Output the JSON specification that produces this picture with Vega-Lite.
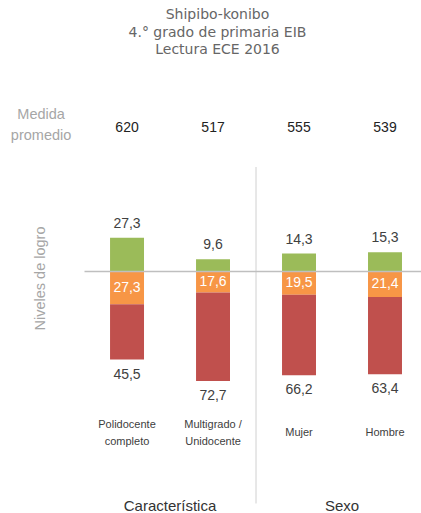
{
  "$schema": "https://vega.github.io/schema/vega-lite/v6.json",
  "autosize": "none",
  "width": 337,
  "height": 252,
  "padding": {"left": 84, "top": 148, "right": 0, "bottom": 113},
  "title": {
    "text": ["Shipibo-konibo", "4.° grado de primaria EIB", "Lectura ECE 2016"],
    "font": "DejaVu Sans",
    "fontSize": 14,
    "fontWeight": "normal",
    "color": "#666666",
    "lineHeight": 17.5,
    "anchor": "middle",
    "frame": "group",
    "dx": -35,
    "offset": 50
  },
  "config": {
    "view": {"stroke": null},
    "font": "Liberation Sans",
    "locale": {"number": {"decimal": ",", "thousands": ".", "grouping": [3], "currency": ["S/ ", ""]}}
  },
  "datasets": {
    "niveles": [
      {"cat": "Polidocente completo", "nivel": "Satisfactorio", "pct": 27.3},
      {"cat": "Polidocente completo", "nivel": "En proceso", "pct": 27.3},
      {"cat": "Polidocente completo", "nivel": "En inicio", "pct": 45.5},
      {"cat": "Multigrado / Unidocente", "nivel": "Satisfactorio", "pct": 9.6},
      {"cat": "Multigrado / Unidocente", "nivel": "En proceso", "pct": 17.6},
      {"cat": "Multigrado / Unidocente", "nivel": "En inicio", "pct": 72.7},
      {"cat": "Mujer", "nivel": "Satisfactorio", "pct": 14.3},
      {"cat": "Mujer", "nivel": "En proceso", "pct": 19.5},
      {"cat": "Mujer", "nivel": "En inicio", "pct": 66.2},
      {"cat": "Hombre", "nivel": "Satisfactorio", "pct": 15.3},
      {"cat": "Hombre", "nivel": "En proceso", "pct": 21.4},
      {"cat": "Hombre", "nivel": "En inicio", "pct": 63.4}
    ],
    "medidas": [
      {"cat": "Polidocente completo", "medida": 620},
      {"cat": "Multigrado / Unidocente", "medida": 517},
      {"cat": "Mujer", "medida": 555},
      {"cat": "Hombre", "medida": 539}
    ],
    "grupos": [
      {"grupo": "Característica", "cat": "Multigrado / Unidocente"},
      {"grupo": "Sexo", "cat": "Hombre"}
    ]
  },
  "encoding": {
    "x": {
      "field": "cat",
      "type": "nominal",
      "scale": {
        "domain": ["Polidocente completo", "Multigrado / Unidocente", "Mujer", "Hombre"],
        "paddingInner": 0.605,
        "paddingOuter": 0.262,
        "align": 0.578
      },
      "axis": {
        "title": null,
        "domain": false,
        "ticks": false,
        "tickSize": 0,
        "labelAngle": 0,
        "labelBaseline": "middle",
        "labelPadding": {"condition": {"test": "datum.value == 'Mujer' || datum.value == 'Hombre'", "value": 32}, "value": 24},
        "labelFontSize": 11,
        "labelColor": "#404040",
        "labelLineHeight": 17,
        "labelFont": "Liberation Sans",
        "labelExpr": "datum.label == 'Multigrado / Unidocente' ? ['Multigrado /', 'Unidocente'] : split(datum.label, ' ')"
      }
    }
  },
  "layer": [
    {
      "data": {"name": "niveles"},
      "transform": [
        {"calculate": "datum.nivel == 'Satisfactorio' ? datum.pct : -datum.pct", "as": "valor"},
        {"calculate": "indexof(['Satisfactorio', 'En proceso', 'En inicio'], datum.nivel)", "as": "orden"},
        {"stack": "valor", "groupby": ["cat"], "sort": [{"field": "orden", "order": "ascending"}], "as": ["v0", "v1"], "offset": "zero"},
        {"calculate": "(datum.v0 + datum.v1) / 2", "as": "mid"}
      ],
      "layer": [
        {
          "mark": {"type": "bar"},
          "encoding": {
            "y": {
              "field": "v0",
              "type": "quantitative",
              "scale": {"domain": [-106, 101], "nice": false, "zero": false},
              "axis": {
                "title": "Niveles de logro",
                "values": [0],
                "labels": false,
                "ticks": false,
                "tickSize": 0,
                "domain": false,
                "grid": true,
                "gridColor": "#bfbfbf",
                "gridWidth": 1.5,
                "zindex": 1,
                "titleColor": "#a6a6a6",
                "titleFontSize": 14.5,
                "titleFontWeight": "normal",
                "titleFont": "Liberation Sans",
                "titlePadding": 37,
                "titleY": 130
              }
            },
            "y2": {"field": "v1"},
            "color": {
              "field": "nivel",
              "type": "nominal",
              "scale": {"domain": ["Satisfactorio", "En proceso", "En inicio"], "range": ["#9bbb59", "#f79646", "#c0504d"]},
              "legend": null
            }
          }
        },
        {
          "transform": [{"filter": "datum.nivel == 'Satisfactorio'"}],
          "mark": {"type": "text", "baseline": "bottom", "dy": -7, "fontSize": 14, "font": "Liberation Sans", "color": "#404040"},
          "encoding": {
            "y": {"field": "v1", "type": "quantitative"},
            "text": {"field": "pct", "type": "quantitative", "format": ".1f"}
          }
        },
        {
          "transform": [{"filter": "datum.nivel == 'En proceso'"}],
          "mark": {"type": "text", "baseline": "middle", "fontSize": 14, "font": "Liberation Sans", "color": "#ffffff"},
          "encoding": {
            "y": {"field": "mid", "type": "quantitative"},
            "text": {"field": "pct", "type": "quantitative", "format": ".1f"}
          }
        },
        {
          "transform": [{"filter": "datum.nivel == 'En inicio'"}],
          "mark": {"type": "text", "baseline": "top", "dy": 8, "fontSize": 14, "font": "Liberation Sans", "color": "#404040"},
          "encoding": {
            "y": {"field": "v1", "type": "quantitative"},
            "text": {"field": "pct", "type": "quantitative", "format": ".1f"}
          }
        }
      ]
    },
    {
      "data": {"name": "medidas"},
      "mark": {"type": "text", "baseline": "middle", "fontSize": 14, "font": "Liberation Sans", "color": "#222222"},
      "encoding": {
        "y": {"datum": 117.8},
        "text": {"field": "medida", "type": "nominal"}
      }
    },
    {
      "data": {"values": [{"etiqueta": "Medida promedio"}]},
      "mark": {"type": "text", "baseline": "middle", "fontSize": 14.5, "font": "Liberation Sans", "color": "#a6a6a6", "lineHeight": 21},
      "encoding": {
        "x": {"datum": "Polidocente completo", "bandPosition": -2.03},
        "y": {"datum": 128.1},
        "text": {"value": ["Medida", "promedio"]}
      }
    },
    {
      "data": {"values": [{"separador": "Característica | Sexo"}]},
      "mark": {"type": "rule", "color": "#d0d0d0", "strokeWidth": 1},
      "encoding": {
        "x": {"datum": "Mujer", "bandPosition": -0.766},
        "y": {"datum": 85.4},
        "y2": {"datum": -191}
      }
    },
    {
      "data": {"name": "grupos"},
      "mark": {"type": "text", "baseline": "middle", "fontSize": 15, "font": "Liberation Sans", "color": "#333333"},
      "encoding": {
        "x": {"field": "cat", "type": "nominal", "bandPosition": -0.766},
        "y": {"datum": -193},
        "text": {"field": "grupo", "type": "nominal"}
      }
    }
  ]
}
